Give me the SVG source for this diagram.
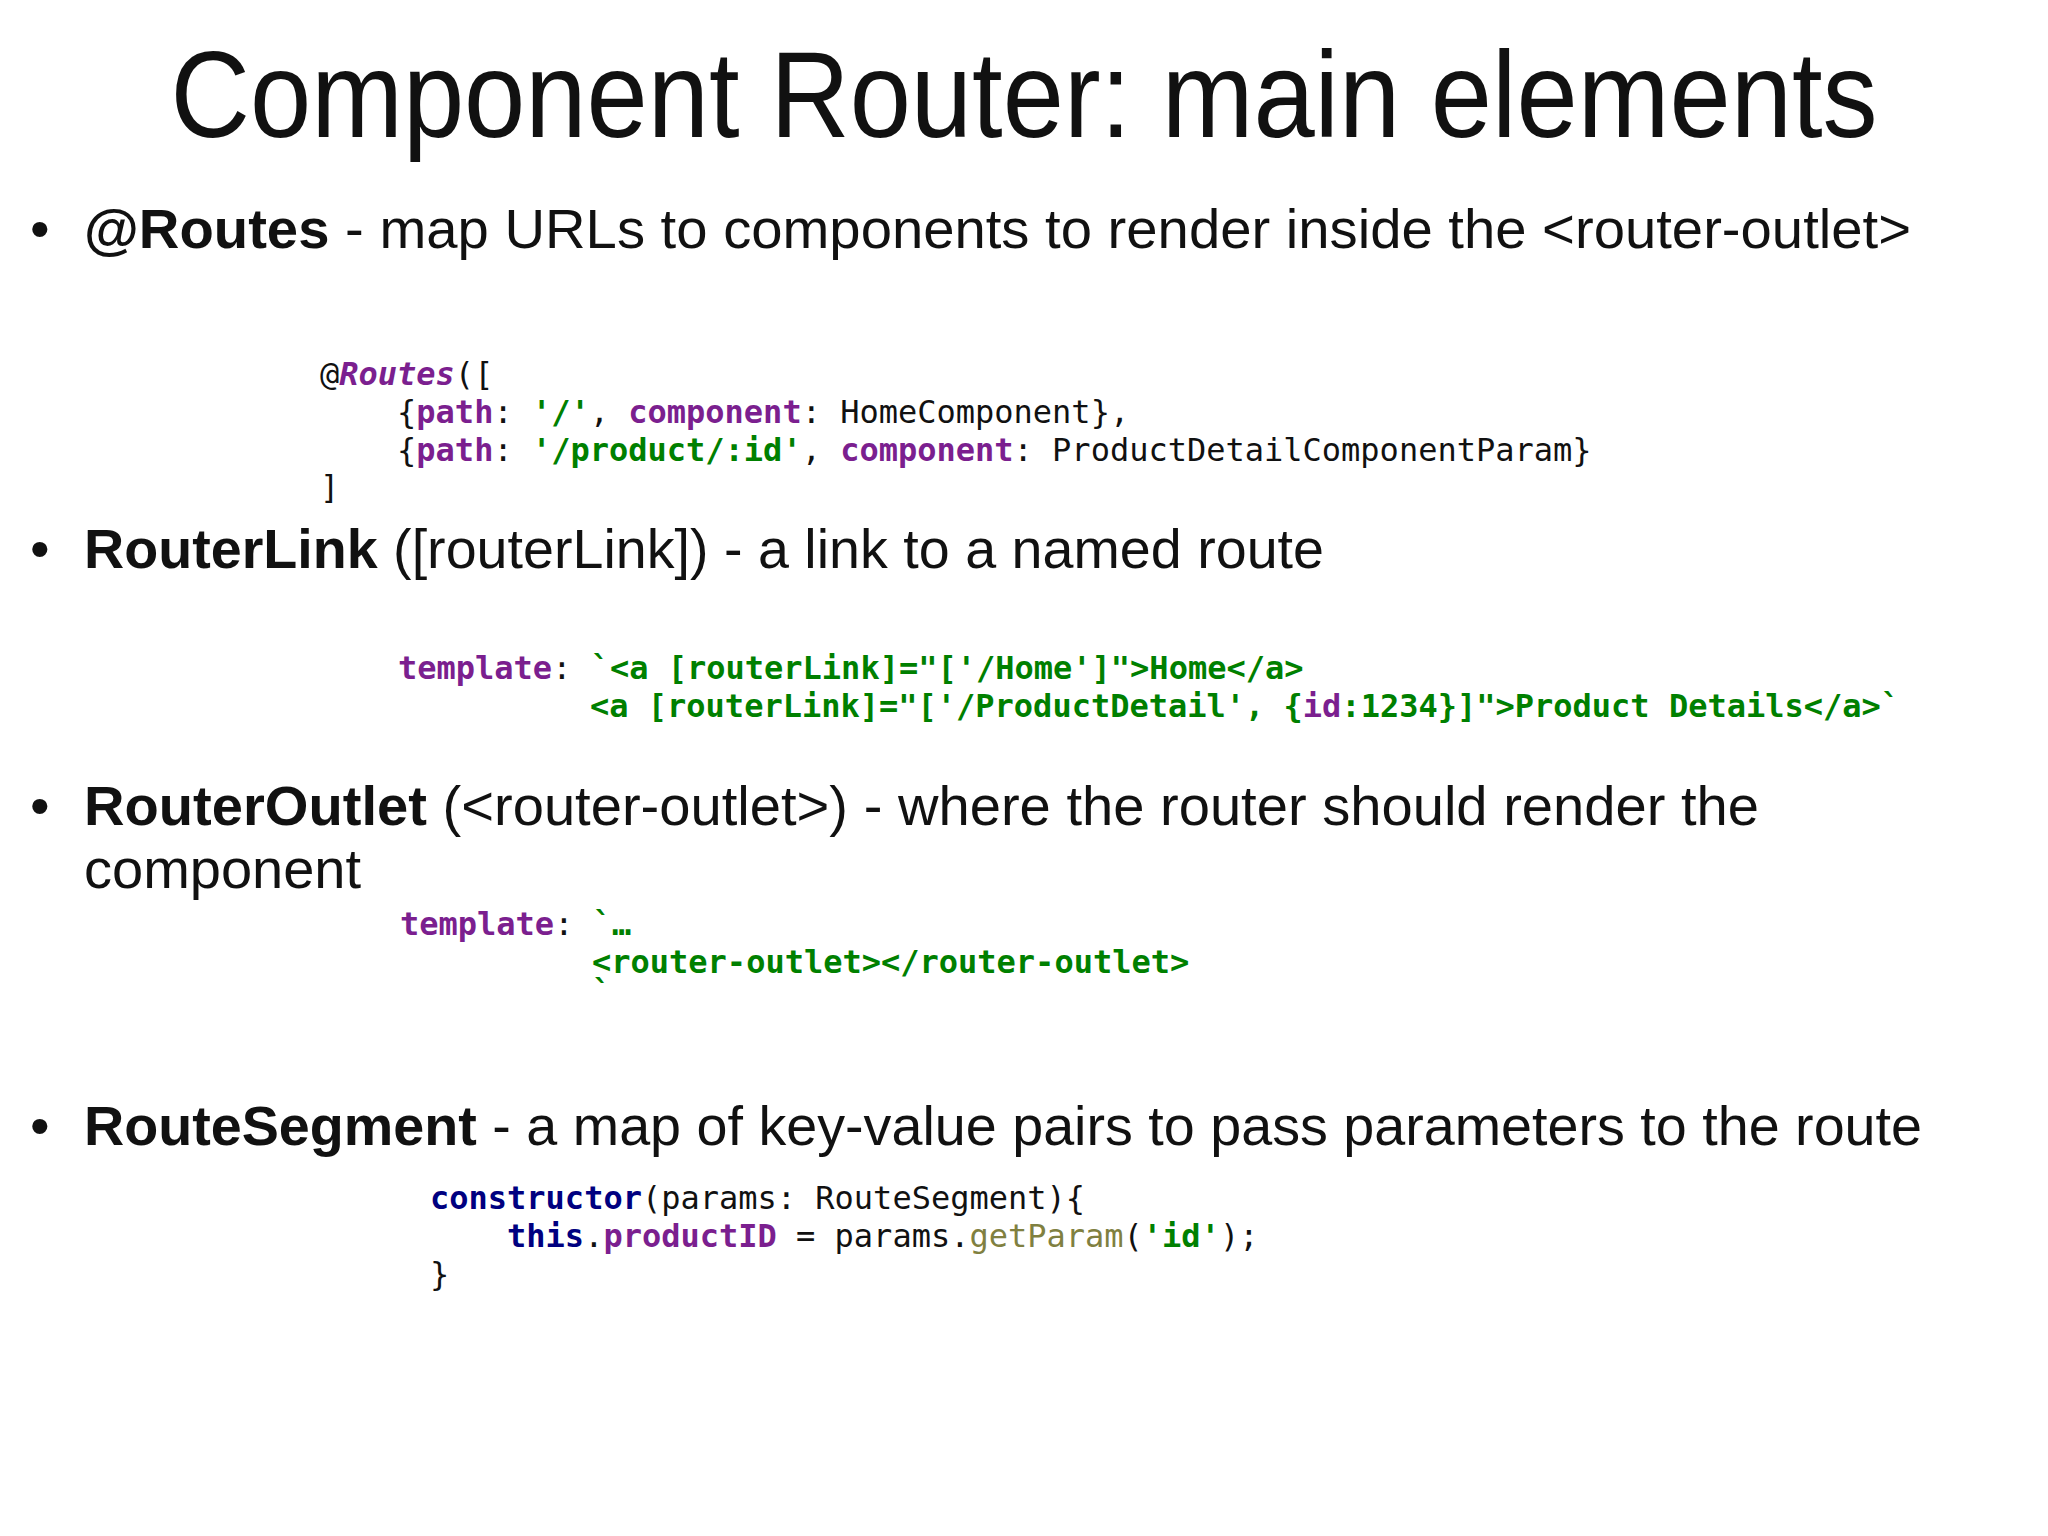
<svg xmlns="http://www.w3.org/2000/svg" width="2048" height="1536" viewBox="0 0 2048 1536">
<style>
.t{font-family:"Liberation Sans",Arial,sans-serif;fill:#111;font-size:56px}
.b{font-weight:bold}
.c{font-family:"DejaVu Sans Mono",monospace;font-size:32px;fill:#111}
.p{fill:#7b1f8f;font-weight:bold}
.g{fill:#008000;font-weight:bold}
.n{fill:#000080;font-weight:bold}
.o{fill:#808040}
</style>
<rect width="2048" height="1536" fill="#fff"/>
<text x="1024" y="137" text-anchor="middle" class="t" style="font-size:122px" textLength="1707" lengthAdjust="spacingAndGlyphs">Component Router: main elements</text>
<g id="routes">
<text x="30" y="248" class="t">•</text>
<text x="84" y="248" class="t" textLength="1827" lengthAdjust="spacingAndGlyphs"><tspan class="b">@Routes</tspan> -  map URLs to components to render inside the &lt;router-outlet&gt;</text>
<text class="c" xml:space="preserve"><tspan x="320" y="385">@<tspan class="p" font-style="italic">Routes</tspan>([</tspan><tspan x="320" y="423">    {<tspan class="p">path</tspan>: <tspan class="g">'/'</tspan>, <tspan class="p">component</tspan>: HomeComponent},</tspan><tspan x="320" y="461">    {<tspan class="p">path</tspan>: <tspan class="g">'/product/:id'</tspan>, <tspan class="p">component</tspan>: ProductDetailComponentParam}</tspan><tspan x="320" y="498">]</tspan></text>
</g>
<g id="routerlink">
<text x="30" y="568" class="t">•</text>
<text x="84" y="568" class="t" textLength="1240" lengthAdjust="spacingAndGlyphs"><tspan class="b">RouterLink</tspan> ([routerLink]) - a link to a named route</text>
<text class="c" xml:space="preserve"><tspan x="398" y="679"><tspan class="p">template</tspan>: <tspan class="g">`&lt;a [routerLink]="['/Home']"&gt;Home&lt;/a&gt;</tspan></tspan><tspan x="590" y="717" class="g">&lt;a [routerLink]="['/ProductDetail', {<tspan class="p">id</tspan>:1234}]"&gt;Product Details&lt;/a&gt;`</tspan></text>
</g>
<g id="routeroutlet">
<text x="30" y="825" class="t">•</text>
<text x="84" y="825" class="t" textLength="1675" lengthAdjust="spacingAndGlyphs"><tspan class="b">RouterOutlet</tspan> (&lt;router-outlet&gt;) -  where the router should render the</text>
<text x="84" y="888" class="t">component</text>
<text class="c" xml:space="preserve"><tspan x="400" y="935"><tspan class="p">template</tspan>: <tspan class="g">`…</tspan></tspan><tspan x="592" y="973" class="g">&lt;router-outlet&gt;&lt;/router-outlet&gt;</tspan><tspan x="592" y="1003" class="g">`</tspan></text>
</g>
<g id="routesegment">
<text x="30" y="1145" class="t">•</text>
<text x="84" y="1145" class="t" textLength="1838" lengthAdjust="spacingAndGlyphs"><tspan class="b">RouteSegment</tspan> - a map of key-value pairs to pass parameters to the route</text>
<text class="c" xml:space="preserve"><tspan x="430" y="1209"><tspan class="n">constructor</tspan>(params: RouteSegment){</tspan><tspan x="430" y="1247">    <tspan class="n">this</tspan>.<tspan class="p">productID</tspan> = params.<tspan class="o">getParam</tspan>(<tspan class="g">'id'</tspan>);</tspan><tspan x="430" y="1285">}</tspan></text>
</g>
<g id="connectors"/>
</svg>
